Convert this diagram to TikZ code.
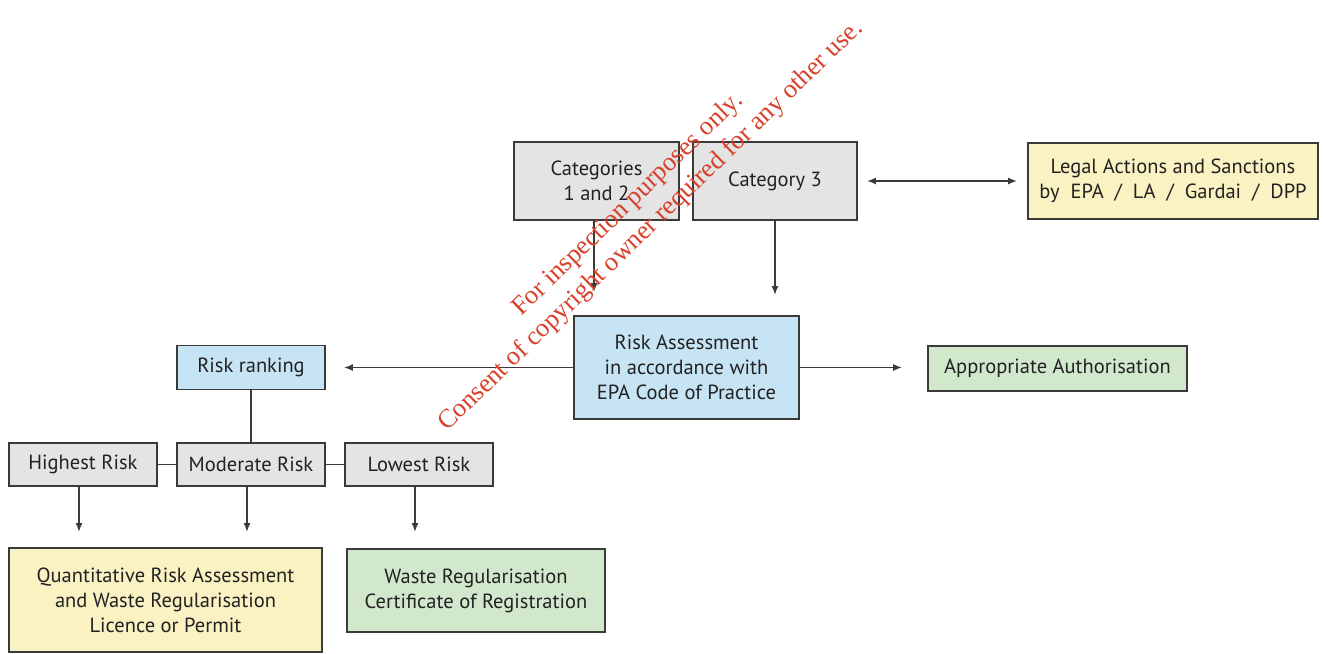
\documentclass[tikz,border=0pt]{standalone}
\usepackage{fontspec}
\setmainfont{PT Sans}
\newfontfamily\stampfont{Liberation Serif}
\usetikzlibrary{arrows.meta,calc}

\definecolor{boxline}{HTML}{3A3A3A}
\definecolor{txt}{HTML}{222222}
\definecolor{greyfill}{HTML}{E4E4E4}
\definecolor{bluefill}{HTML}{C6E4F4}
\definecolor{yellowfill}{HTML}{FAF2C2}
\definecolor{greenfill}{HTML}{D2E8CC}
\definecolor{stampred}{HTML}{D8402A}

\tikzset{
  box/.style={draw=boxline, line width=1.8pt, text=txt, align=center,
    inner sep=0pt, font=\fontsize{20.5}{25}\selectfont},
  greybox/.style={box, fill=greyfill},
  bluebox/.style={box, fill=bluefill},
  yellowbox/.style={box, fill=yellowfill},
  greenbox/.style={box, fill=greenfill},
  link/.style={draw=boxline, line width=1.6pt},
  arr/.style={link, -{Latex[length=9pt,width=7pt]}},
  twoway/.style={link, {Latex[length=9pt,width=7pt]}-{Latex[length=9pt,width=7pt]}},
  stamp/.style={text=stampred, font=\stampfont\fontsize{26.3}{30}\selectfont,
    rotate=44, inner sep=0pt, anchor=base west}
}

\begin{document}
\begin{tikzpicture}[x=1pt,y=-1pt]
\useasboundingbox (0,0) rectangle (1324,653);

% category boxes and enforcement
\node[greybox, minimum width=165pt, minimum height=78pt] (cat12) at (596.5,181) {Categories\\1 and 2};
\node[greybox, minimum width=164pt, minimum height=78pt] (cat3) at (775,181) {Category 3};
\node[yellowbox, minimum width=290pt, minimum height=76pt] (legal) at (1173,181)
  {Legal Actions and Sanctions\\by\ \ EPA\ \ /\ \ LA\ \ /\ \ Gardai\ \ /\ \ DPP};

% assessment row
\node[bluebox, minimum width=225pt, minimum height=103pt] (ra) at (686.5,367.5)
  {Risk Assessment\\in accordance with\\EPA Code of Practice};
\node[bluebox, minimum width=148pt, minimum height=44pt] (rank) at (251,367.5) {Risk ranking};
\node[greenbox, minimum width=259pt, minimum height=45pt] (auth) at (1057.5,368.5) {Appropriate Authorisation};

% risk levels
\node[greybox, minimum width=148pt, minimum height=43pt] (high) at (83,464.5) {Highest Risk};
\node[greybox, minimum width=148pt, minimum height=43pt] (mod) at (251,464.5) {Moderate Risk};
\node[greybox, minimum width=148pt, minimum height=43pt] (low) at (419,464.5) {Lowest Risk};

% outcomes
\node[yellowbox, minimum width=313pt, minimum height=104pt] (qra) at (165.5,600)
  {Quantitative Risk Assessment\\and Waste Regularisation\\Licence or Permit};
\node[greenbox, minimum width=258pt, minimum height=83pt] (wrc) at (476,590.5)
  {Waste Regularisation\\Certificate of Registration};

% free arrow ends
\coordinate (t12) at (594,292);
\coordinate (t3) at (775,295);
\coordinate (th) at (79,532);
\coordinate (tm) at (247,532);
\coordinate (tl) at (415,532);

% connectors
\draw[arr] (t12 |- cat12.south) -- (t12);
\draw[arr] (cat3.south) -- (t3);
\draw[twoway, shorten <=9pt, shorten >=10pt] (cat3.east) -- (legal.west);
\draw[arr, shorten >=18pt] (ra.west) -- (ra.west -| rank.east);
\draw[arr, shorten >=25pt] (ra.east) -- (ra.east -| auth.west);
\draw[link] (rank.south) -- (mod.north);
\draw[link] (high.east) -- (mod.west);
\draw[link] (mod.east) -- (low.west);
\draw[arr] (th |- high.south) -- (th);
\draw[arr] (tm |- mod.south) -- (tm);
\draw[arr] (tl |- low.south) -- (tl);

% inspection notice
\node[stamp] (n1) at (521,317) {For inspection purposes only.};
\node[stamp] (n2) at (447,432) {Consent of copyright owner required for any other use.};
\end{tikzpicture}
\end{document}
